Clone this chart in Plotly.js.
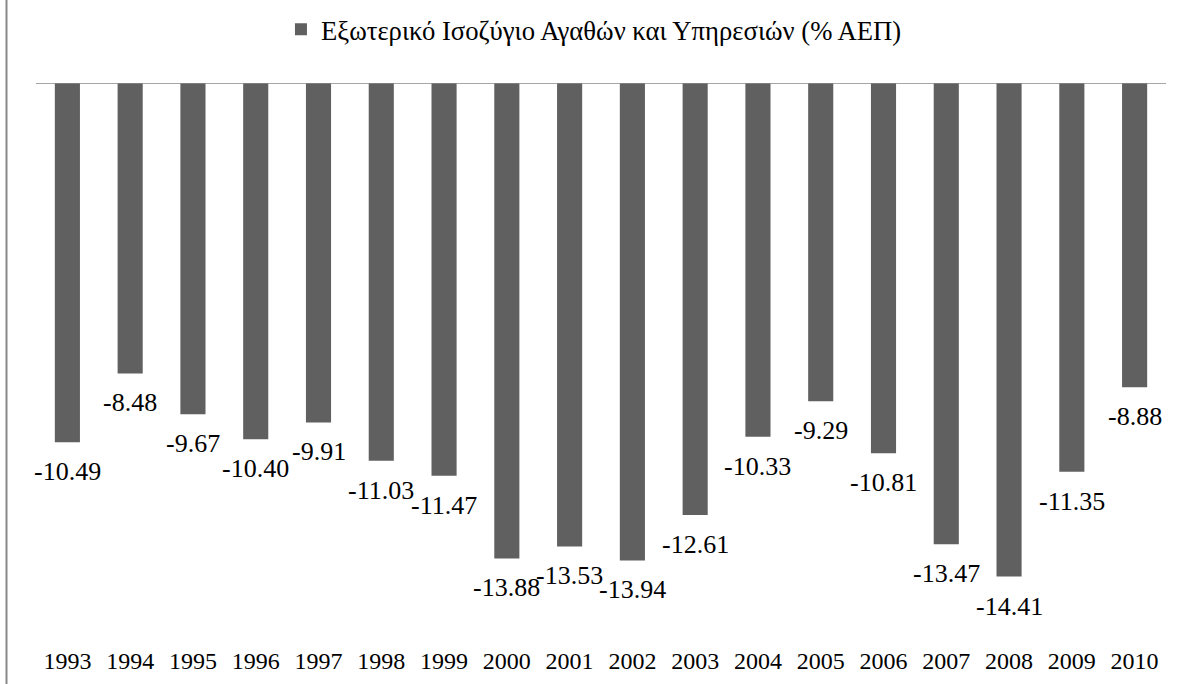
<!DOCTYPE html>
<html>
<head>
<meta charset="utf-8">
<script src="https://cdn.plot.ly/plotly-3.0.1.min.js"></script>
<style>
  html, body { margin: 0; padding: 0; background: #ffffff; }
  #chart { width: 1181px; height: 684px; }
</style>
</head>
<body>
<div id="chart"></div>
<script>
// ---- data ----
const years = ['1993','1994','1995','1996','1997','1998','1999','2000','2001',
               '2002','2003','2004','2005','2006','2007','2008','2009','2010'];
const balance = [-10.49, -8.48, -9.67, -10.40, -9.91, -11.03, -11.47, -13.88, -13.53,
                 -13.94, -12.61, -10.33, -9.29, -10.81, -13.47, -14.41, -11.35, -8.88];
const seriesName = 'Εξωτερικό Ισοζύγιο Αγαθών και Υπηρεσιών (% ΑΕΠ)';

// ---- style ----
const FONT = 'Liberation Serif, Times New Roman, serif';
const BAR_COLOR = '#606060';
const LINE_COLOR = '#888888';

const trace = {
  type: 'bar',
  x: years,
  y: balance,
  name: seriesName,
  marker: { color: BAR_COLOR, line: { width: 0 } },
  hoverinfo: 'x+y',
  showlegend: true
};

// data labels: on a category axis annotations use the category serial number
const labels = years.map((yr, i) => ({
  x: i,
  y: balance[i],
  xref: 'x',
  yref: 'y',
  text: balance[i].toFixed(2),
  showarrow: false,
  xanchor: 'center',
  yanchor: 'middle',
  yshift: -29.5,
  font: { family: FONT, size: 26, color: '#000000' }
}));

const layout = {
  width: 1181,
  height: 684,
  margin: { l: 36, r: 15, t: 83, b: 53, pad: 0 },
  paper_bgcolor: '#ffffff',
  plot_bgcolor: '#ffffff',
  font: { family: FONT, size: 26, color: '#000000' },
  bargap: 0.6,
  showlegend: true,
  legend: {
    orientation: 'h',
    xref: 'container',
    yref: 'container',
    x: 0.2379,
    y: 0.957,
    xanchor: 'left',
    yanchor: 'middle',
    bgcolor: 'rgba(0,0,0,0)',
    borderwidth: 0,
    font: { family: FONT, size: 26.67, color: '#000000' }
  },
  xaxis: {
    type: 'category',
    categoryorder: 'array',
    categoryarray: years,
    range: [-0.5, years.length - 0.5],
    autorange: false,
    showline: false,
    showgrid: false,
    zeroline: false,
    ticks: '',
    ticklabelstandoff: 13,
    tickfont: { family: FONT, size: 24, color: '#000000' },
    fixedrange: true
  },
  yaxis: {
    range: [-16, 0],
    autorange: false,
    showline: false,
    showgrid: false,
    zeroline: false,
    showticklabels: false,
    ticks: '',
    fixedrange: true
  },
  shapes: [
    { type: 'line', xref: 'paper', yref: 'y', x0: 0, x1: 1, y0: 0, y1: 0,
      line: { color: LINE_COLOR, width: 1.5 } },
    { type: 'line', xref: 'paper', yref: 'paper', x0: -0.0261, x1: -0.0261, y0: -0.3, y1: 1.4,
      line: { color: LINE_COLOR, width: 2 } }
  ],
  annotations: labels
};

Plotly.newPlot('chart', [trace], layout, { staticPlot: true, displayModeBar: false });
</script>
</body>
</html>
